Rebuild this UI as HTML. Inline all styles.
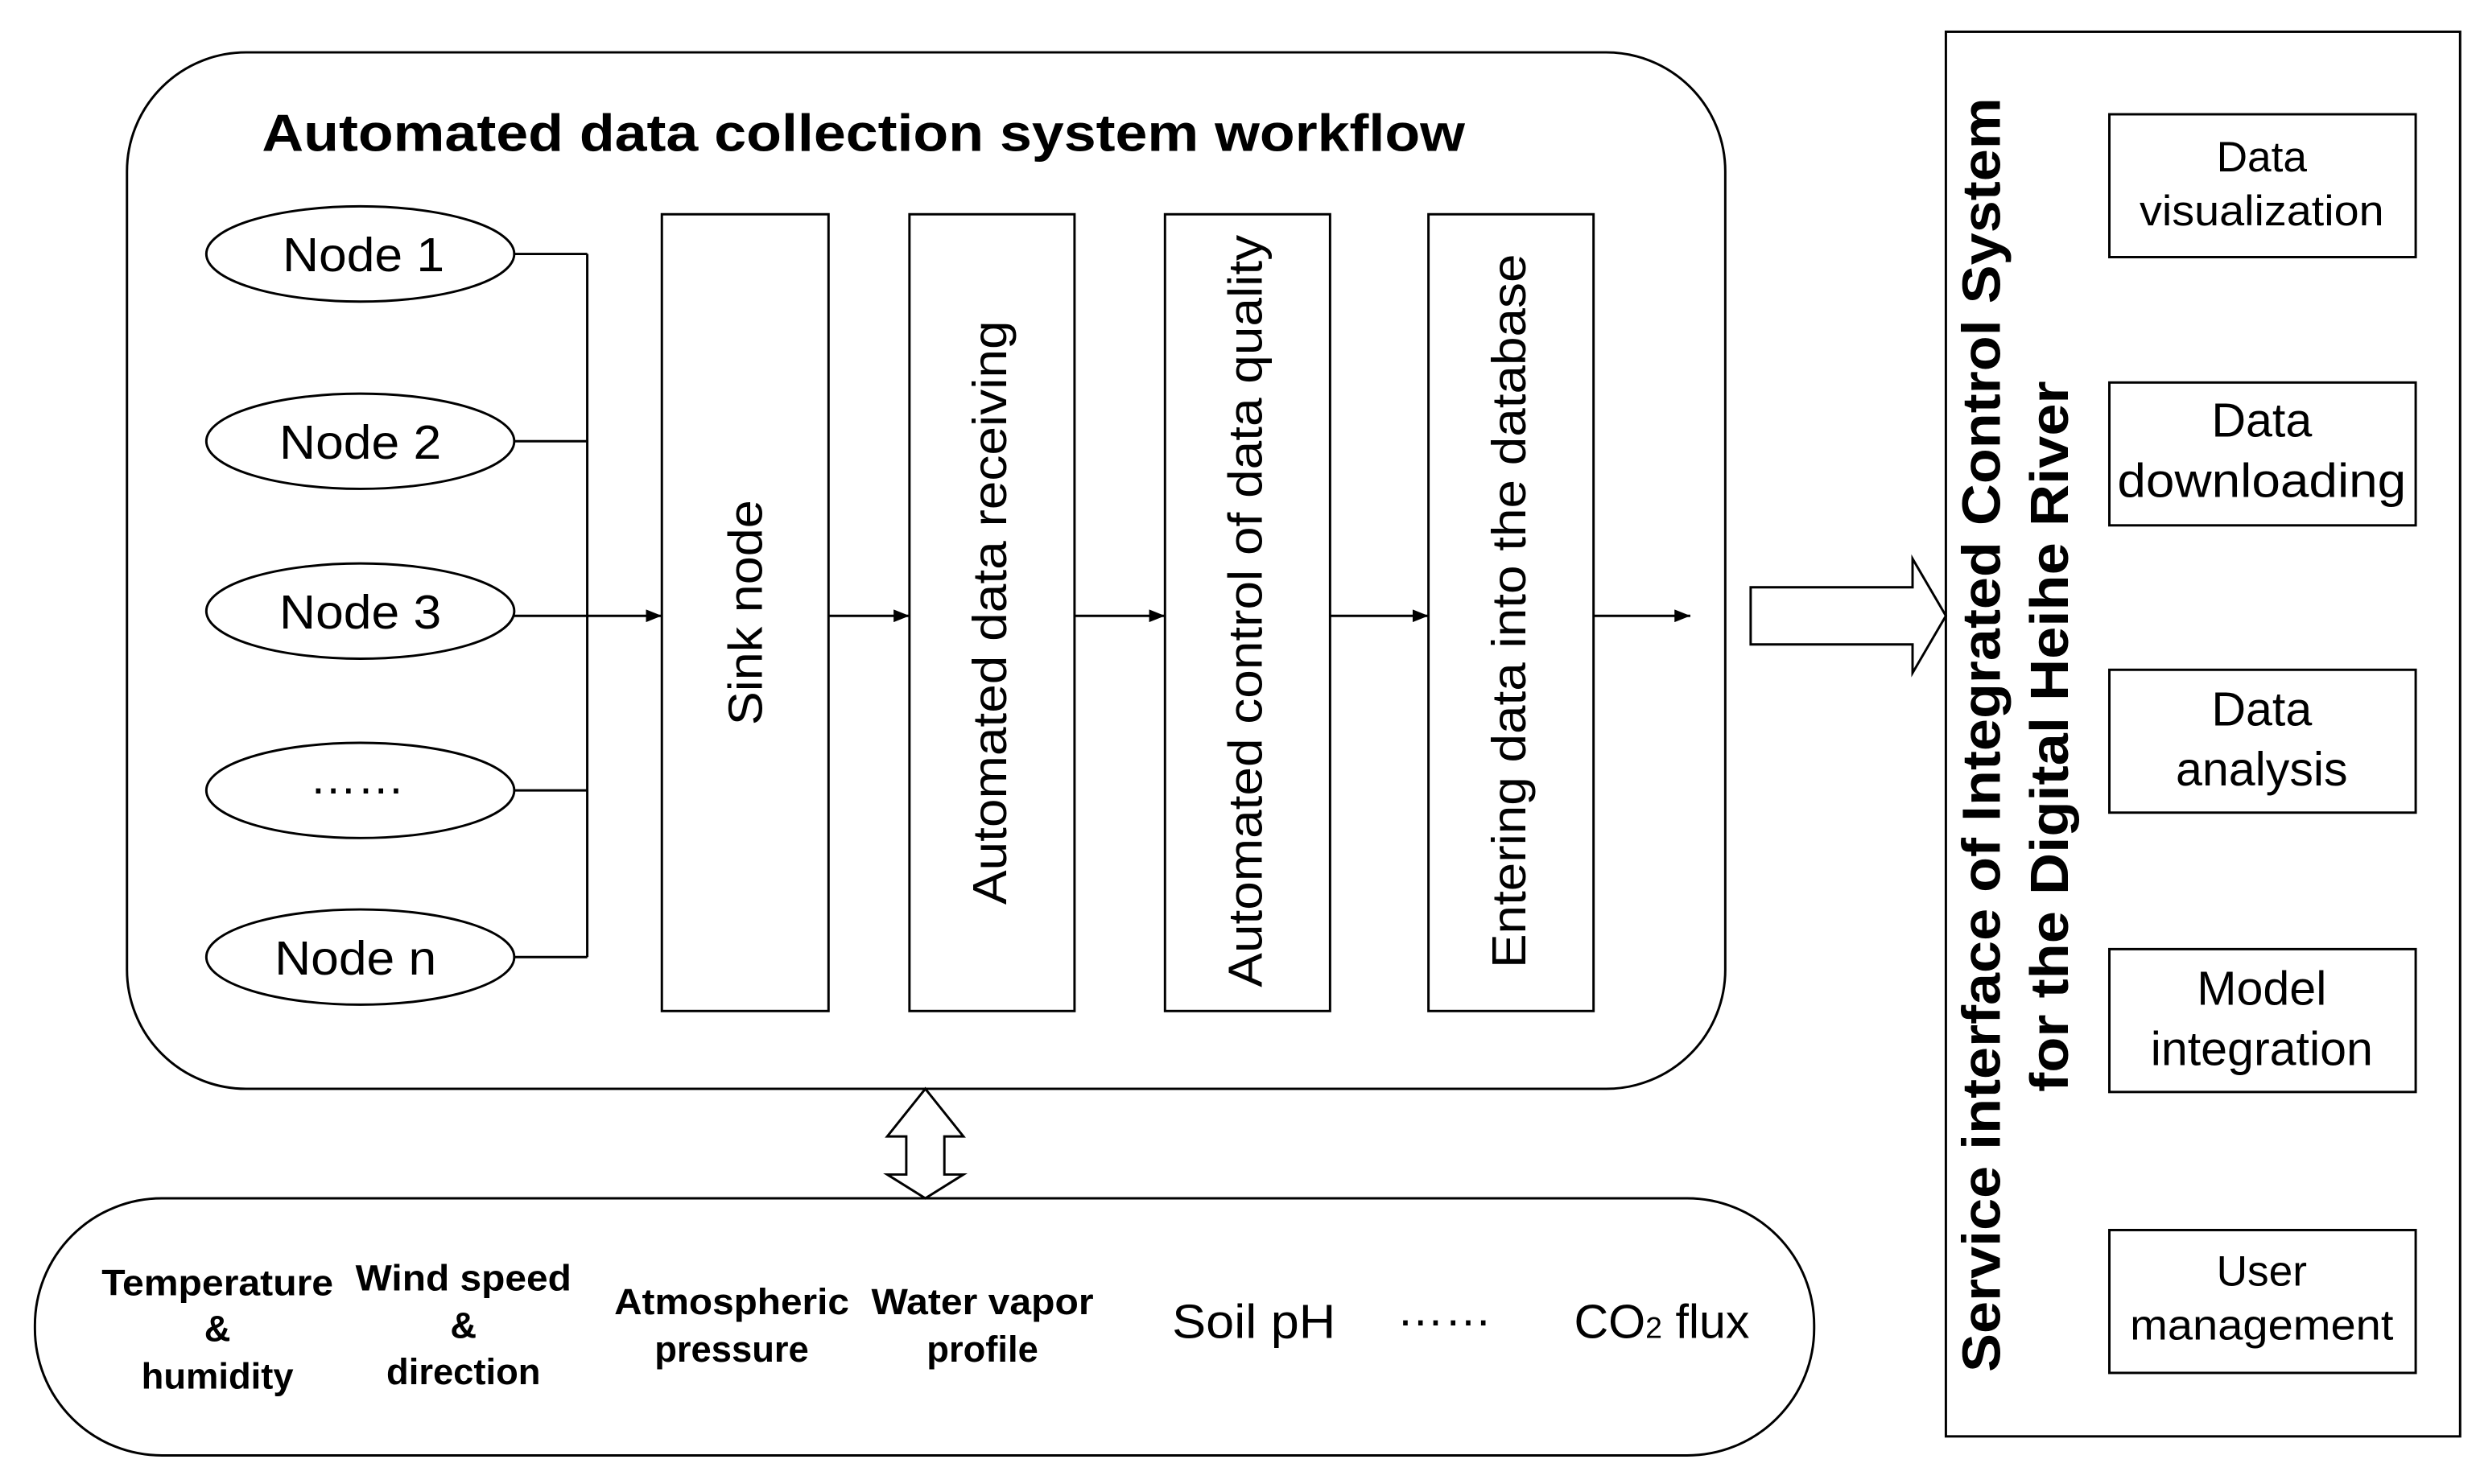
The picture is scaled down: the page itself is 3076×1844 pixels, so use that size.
<!DOCTYPE html>
<html><head><meta charset="utf-8"><style>html,body{margin:0;padding:0;background:#fff}svg{display:block}</style></head>
<body>
<svg width="3076" height="1844" viewBox="0 0 1560 935" preserveAspectRatio="none" xmlns="http://www.w3.org/2000/svg" font-family="Liberation Sans, Arial, sans-serif">
<defs><marker id="a" markerWidth="10" markerHeight="8" refX="10" refY="4" orient="auto" markerUnits="userSpaceOnUse"><path d="M0,0 L10,4 L0,8 z" fill="#000"/></marker></defs>
<g fill="none" stroke="#000" stroke-width="1.5">
<rect x="80" y="33" width="1007" height="653" rx="75" ry="75"/>
<ellipse cx="227" cy="160" rx="97" ry="30"/>
<ellipse cx="227" cy="278" rx="97" ry="30"/>
<ellipse cx="227" cy="385" rx="97" ry="30"/>
<ellipse cx="227" cy="498" rx="97" ry="30"/>
<ellipse cx="227" cy="603" rx="97" ry="30"/>
<path d="M324,160H370M324,278H370M324,498H370M324,603H370M370,160V603"/>
<path d="M324,388H417" marker-end="url(#a)"/>
<rect x="417" y="135" width="105" height="502"/>
<rect x="573" y="135" width="104" height="502"/>
<rect x="734" y="135" width="104" height="502"/>
<rect x="900" y="135" width="104" height="502"/>
<path d="M522,388H573" marker-end="url(#a)"/>
<path d="M677,388H734" marker-end="url(#a)"/>
<path d="M838,388H900" marker-end="url(#a)"/>
<path d="M1004,388H1065" marker-end="url(#a)"/>
<path d="M1103,370H1205V352L1226,388L1205,424V406H1103Z"/>
<rect x="1226" y="20" width="324" height="885"/>
<rect x="1329" y="72" width="193" height="90"/>
<rect x="1329" y="241" width="193" height="90"/>
<rect x="1329" y="422" width="193" height="90"/>
<rect x="1329" y="598" width="193" height="90"/>
<rect x="1329" y="775" width="193" height="90"/>
<path d="M583,686L607,716H595V740H607L583,755L559,740H571V716H559Z"/>
<rect x="22" y="755" width="1121" height="162" rx="80" ry="80"/>
</g>
<g fill="#000">
<text x="165" y="95" font-size="33" font-weight="bold" textLength="758" lengthAdjust="spacingAndGlyphs">Automated data collection system workflow</text>
<g font-size="30" text-anchor="middle">
<text x="229" y="171" textLength="102" lengthAdjust="spacingAndGlyphs">Node 1</text>
<text x="227" y="289" textLength="102" lengthAdjust="spacingAndGlyphs">Node 2</text>
<text x="227" y="396" textLength="102" lengthAdjust="spacingAndGlyphs">Node 3</text>
<text x="225" y="500">……</text>
<text x="224" y="614" textLength="102" lengthAdjust="spacingAndGlyphs">Node n</text>
</g>
<g font-size="30" text-anchor="middle">
<text transform="translate(480,386) rotate(-90)" textLength="142" lengthAdjust="spacingAndGlyphs">Sink node</text>
<text transform="translate(634,386) rotate(-90)" textLength="368" lengthAdjust="spacingAndGlyphs">Automated data receiving</text>
<text transform="translate(795,385) rotate(-90)" textLength="474" lengthAdjust="spacingAndGlyphs">Automated control of data quality</text>
<text transform="translate(961,385) rotate(-90)" textLength="450" lengthAdjust="spacingAndGlyphs">Entering data into the database</text>
<text transform="translate(1260,463) rotate(-90)" font-size="34" font-weight="bold" textLength="803" lengthAdjust="spacingAndGlyphs">Service interface of Integrated Control System</text>
<text transform="translate(1303,464) rotate(-90)" font-size="34" font-weight="bold" textLength="448" lengthAdjust="spacingAndGlyphs">for the Digital Heihe River</text>
</g>
<g font-size="27" text-anchor="middle">
<text x="1425" y="108">Data</text><text x="1425" y="142" textLength="154" lengthAdjust="spacingAndGlyphs">visualization</text>
<text x="1425" y="275" font-size="30">Data</text><text x="1425" y="313" font-size="30" textLength="182" lengthAdjust="spacingAndGlyphs">downloading</text>
<text x="1425" y="457" font-size="30">Data</text><text x="1425" y="495" font-size="30">analysis</text>
<text x="1425" y="633" font-size="30">Model</text><text x="1425" y="671" font-size="30">integration</text>
<text x="1425" y="810">User</text><text x="1425" y="844" textLength="166" lengthAdjust="spacingAndGlyphs">management</text>
</g>
<g font-size="23" font-weight="bold" text-anchor="middle">
<text x="137" y="816" textLength="146" lengthAdjust="spacingAndGlyphs">Temperature</text><text x="137" y="845">&amp;</text><text x="137" y="875">humidity</text>
<text x="292" y="813" textLength="136" lengthAdjust="spacingAndGlyphs">Wind speed</text><text x="292" y="843">&amp;</text><text x="292" y="872">direction</text>
<text x="461" y="828" textLength="148" lengthAdjust="spacingAndGlyphs">Atmospheric</text><text x="461" y="858">pressure</text>
<text x="619" y="828" textLength="140" lengthAdjust="spacingAndGlyphs">Water vapor</text><text x="619" y="858">profile</text>
</g>
<g font-size="30" text-anchor="middle">
<text x="790" y="843" textLength="103" lengthAdjust="spacingAndGlyphs">Soil pH</text>
<text x="910" y="835">……</text>
<text x="1047" y="843">CO<tspan font-size="19">2</tspan> flux</text>
</g>
</g>
</svg>
</body></html>
